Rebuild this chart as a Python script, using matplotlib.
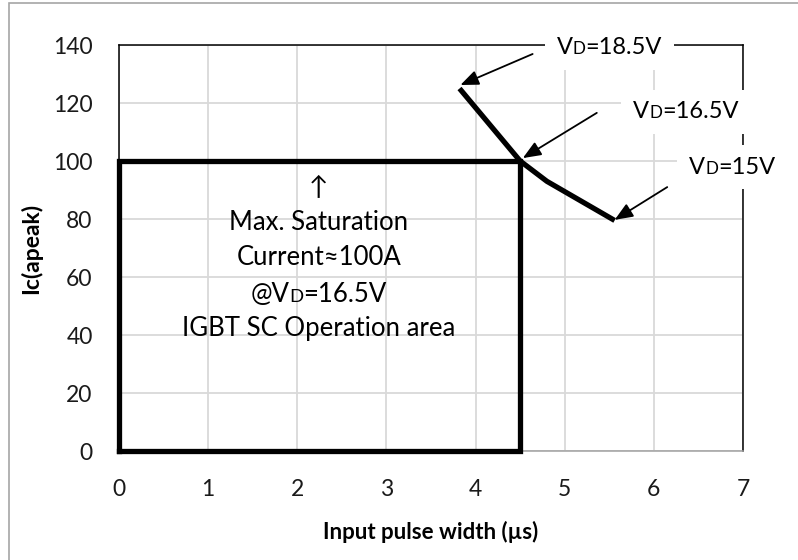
import matplotlib
matplotlib.use("Agg")
import matplotlib.pyplot as plt
from matplotlib.offsetbox import TextArea, HPacker, AnnotationBbox
from matplotlib.patches import Rectangle

plt.rcParams['font.family'] = ['Lato', 'DejaVu Sans']

# Short-circuit limit curve (pulse width in µs, peak collector current in A)
pulse_width = [3.82, 4.5, 4.8, 5.56]
ic_peak = [125, 100, 93, 79.5]

# Safe operating box
box_width = 4.5
box_current = 100

x_ticks = [0, 1, 2, 3, 4, 5, 6, 7]
y_ticks = [0, 20, 40, 60, 80, 100, 120, 140]

# Gate-voltage callouts: voltage label, curve point, arrow tail, label position
callout_labels = ["18.5V", "16.5V", "15V"]
callout_heads = [(3.83, 126.2), (4.53, 101), (5.56, 79.7)]
callout_tails = [(4.64, 136.9), (5.36, 116.6), (6.15, 91)]
callout_text_pos = [(5.50, 139), (6.36, 116.9), (6.88, 97.9)]

center_lines = ["↑", "Max. Saturation", "Current≈100A", None, "IGBT SC Operation area"]

fig = plt.figure(figsize=(7.98, 5.6), dpi=100)
W, H = 798, 560
ax = fig.add_axes([119 / W, 1 - 451 / H, (743 - 119) / W, (451 - 45) / H])

# Outer chart frame
fig.patches.append(Rectangle((9 / W, -0.05), 1.2, 1 - 3 / H + 0.05, transform=fig.transFigure,
                             fill=False, edgecolor='#a6a6a6', linewidth=1.2, zorder=0))

ax.set_xlim(0, 7)
ax.set_ylim(0, 140)
ax.set_xticks(x_ticks)
ax.set_yticks(y_ticks)
ax.grid(True, color='#d9d9d9', linewidth=1.3)
ax.set_axisbelow(True)
ax.tick_params(length=0, labelsize=16.5, labelcolor='#1a1a1a')
ax.tick_params(axis='y', pad=19)
ax.tick_params(axis='x', pad=20)
for s in ['top', 'left', 'right']:
    ax.spines[s].set_color('black')
    ax.spines[s].set_linewidth(1.1)
ax.spines['bottom'].set_color('#a0a0a0')
ax.spines['bottom'].set_linewidth(1.1)

ax.set_xlabel("Input pulse width (µs)", fontsize=16, fontweight='bold', labelpad=15)
ax.set_ylabel("Ic(apeak)", fontsize=16.5, fontweight='bold', labelpad=8)

# Operating area box
ax.plot([0, 0, box_width, box_width, 0], [0, box_current, box_current, 0, 0],
        color='black', linewidth=3.8, solid_joinstyle='miter', clip_on=False, zorder=4)

# Limit curve
ax.plot(pulse_width, ic_peak, color='black', linewidth=3.8, solid_capstyle='butt', zorder=5)


def vd_label(prefix, value, size):
    parts = [TextArea(prefix + "V", textprops=dict(fontsize=size)),
             TextArea("D", textprops=dict(fontsize=size * 0.72)),
             TextArea("=" + value, textprops=dict(fontsize=size))]
    return HPacker(children=parts, align="baseline", pad=0, sep=0)


for lab, head, tail, pos in zip(callout_labels, callout_heads, callout_tails, callout_text_pos):
    ax.annotate("", xy=head, xytext=tail,
                arrowprops=dict(arrowstyle='-|>,head_length=1.1,head_width=0.45',
                                color='black', linewidth=1.3, shrinkA=0, shrinkB=0),
                zorder=6, annotation_clip=False)
    ab = AnnotationBbox(vd_label("", lab, 17), pos, xycoords='data', frameon=True,
                        pad=0.85, box_alignment=(0.5, 0.5), annotation_clip=False,
                        bboxprops=dict(facecolor='white', edgecolor='none'), zorder=7)
    ax.add_artist(ab)

# Centre annotation
cx = 2.24
line_y = [91, 78.8, 66.6, 53.9, 42.2]
for txt, yv in zip(center_lines, line_y):
    if txt is None:
        continue
    ax.text(cx, yv, txt, ha='center', va='center', fontsize=18.5, zorder=6)
ab = AnnotationBbox(vd_label("@", "16.5V", 18.5), (cx, line_y[3]), frameon=False,
                    box_alignment=(0.5, 0.5), zorder=6)
ax.add_artist(ab)

fig.savefig("out.png", dpi=100)
